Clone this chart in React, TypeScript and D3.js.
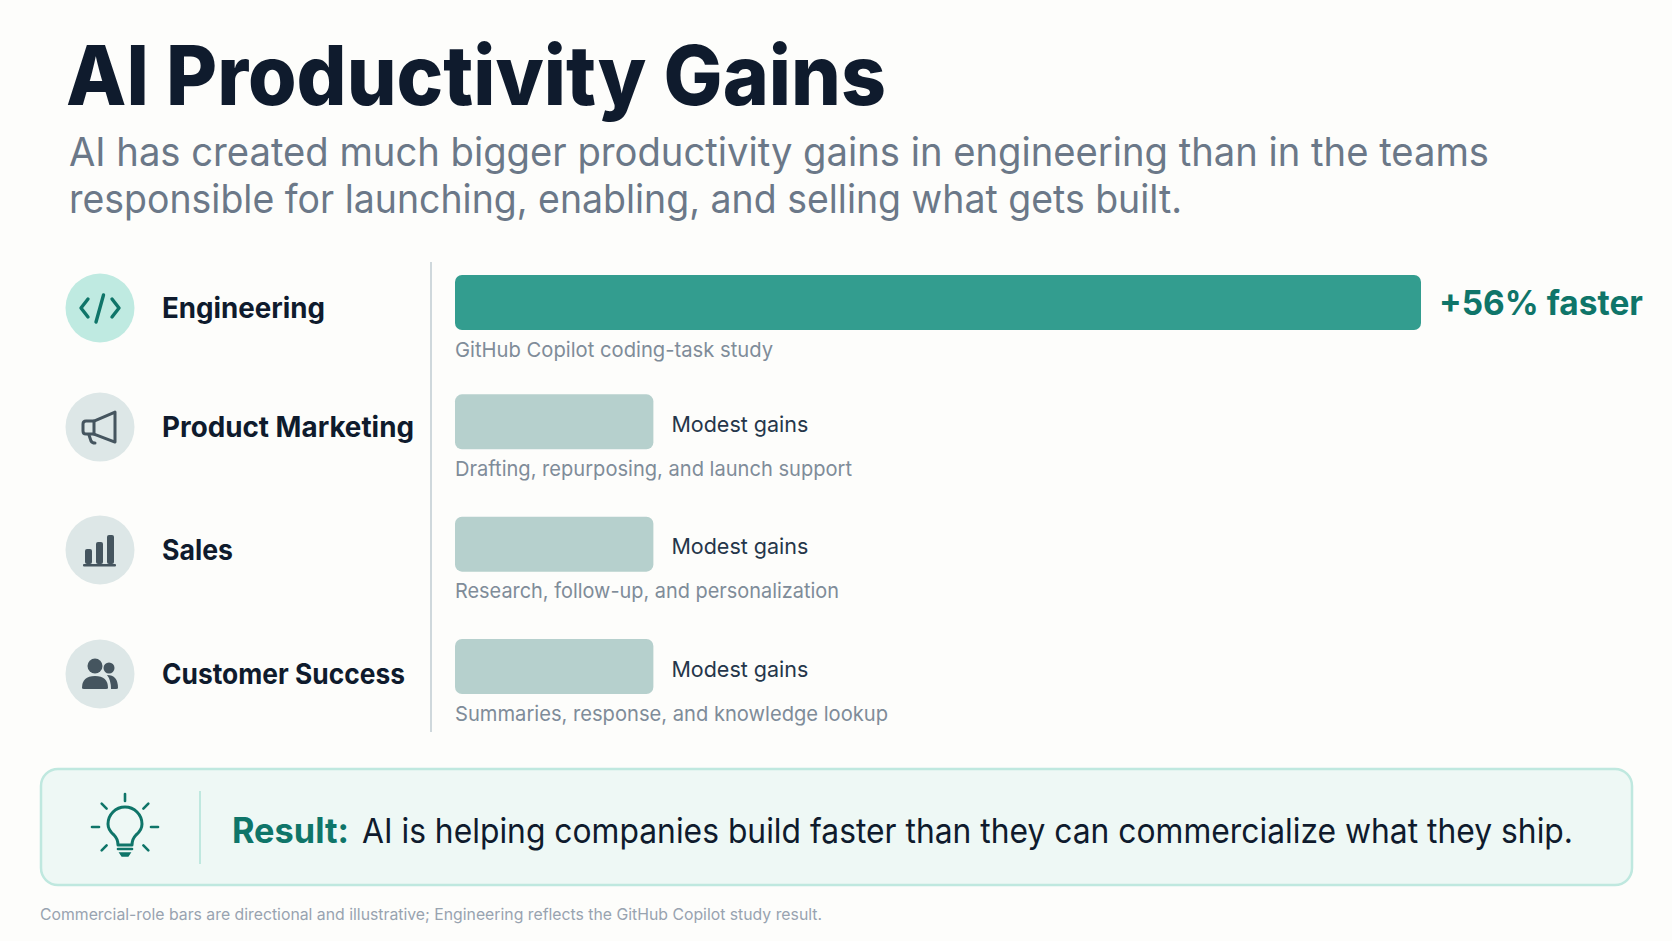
import React from "react";
import * as d3 from "d3";

const categories = ["Engineering", "Product Marketing", "Sales", "Customer Success"];
const values = [56, 11.5, 11.5, 11.5];
const valueLabels = ["+56% faster", "Modest gains", "Modest gains", "Modest gains"];
const notes = [
  "GitHub Copilot coding-task study",
  "Drafting, repurposing, and launch support",
  "Research, follow-up, and personalization",
  "Summaries, response, and knowledge lookup",
];
const subtitleLines = [
  "AI has created much bigger productivity gains in engineering than in the teams",
  "responsible for launching, enabling, and selling what gets built.",
];

const W = 1672;
const H = 941;
const FONT = "Inter, 'Open Sans', sans-serif";
const INK = "#0f1b2d";
const TEAL = "#0f7569";
const SLATE = "#45555f";

const x = d3.scaleLinear().domain([0, 56]).range([455, 1421]);
const y = d3.scalePoint<string>().domain(categories).range([302.5, 666.5]);
const BAR_H = 55;
// small per-row layout nudges of the reference's uneven spacing
const rowNudge = [0, -2, -1, 0];
const iconNudge = [5.5, 5.2, 5.8, 7.5];
const labelWidths = [163, 252, 71, 243];
const noteWidths = [318, 397, 384, 433];

function Icon({ i }: { i: number }) {
  if (i === 0)
    return (
      <g fill="none" stroke={TEAL} strokeWidth={3.4} strokeLinecap="round" strokeLinejoin="round">
        <path d="M-12,-9 L-19,0 L-12,9" />
        <path d="M12,-9 L19,0 L12,9" />
        <path d="M3.5,-13 L-4,14" />
      </g>
    );
  if (i === 1)
    return (
      <g fill="none" stroke={SLATE} strokeWidth={3} strokeLinejoin="round" strokeLinecap="round">
        <path d="M15,-15 L-6,-6 L-14,-6 Q-17,-6 -17,-3 L-17,4 Q-17,7 -14,7 L-6,7 L15,15 Z" />
        <path d="M-6,-6 L-6,7" />
        <path d="M-11,8 L-9,14 Q-8,16 -5,16" />
      </g>
    );
  if (i === 2)
    return (
      <g fill={SLATE}>
        <rect x={-15} y={-1} width={7} height={15} rx={2} />
        <rect x={-4} y={-8} width={7} height={22} rx={2} />
        <rect x={7} y={-15} width={7} height={29} rx={2} />
        <rect x={-17} y={14} width={33} height={2.5} rx={1} />
      </g>
    );
  return (
    <g fill={SLATE}>
      <circle cx={-5} cy={-8} r={7.5} />
      <circle cx={9} cy={-6} r={5.5} />
      <path d="M-18,14 Q-18,2 -5,2 Q8,2 8,14 Q8,15 6,15 L-16,15 Q-18,15 -18,14 Z" />
      <path d="M7,1 Q18,1 18,14 Q18,15 16,15 L11,15 Q11,6 7,1 Z" />
    </g>
  );
}

function Bulb() {
  const rays = [-90, -45, 0, 45, 135, 180, 225];
  return (
    <g transform="translate(125,828)" stroke={TEAL} fill="none" strokeLinecap="round">
      {rays.map((a) => {
        const r = (a * Math.PI) / 180;
        return (
          <line
            key={a}
            x1={Math.cos(r) * 26}
            y1={Math.sin(r) * 26 - 1}
            x2={Math.cos(r) * 33}
            y2={Math.sin(r) * 33 - 1}
            strokeWidth={2.6}
          />
        );
      })}
      <path
        d="M-7,17 Q-7,11 -11,7 Q-17,2 -17,-4 A17,17 0 0 1 17,-4 Q17,2 11,7 Q7,11 7,17 Z"
        strokeWidth={3}
        strokeLinejoin="round"
      />
      <line x1={-7} y1={21} x2={7} y2={21} strokeWidth={2.6} />
      <path d="M-5,25 L5,25 L3,28 L-3,28 Z" fill={TEAL} strokeWidth={1.5} />
    </g>
  );
}

export default function App() {
  return (
    <svg
      width={W}
      height={H}
      viewBox={`0 0 ${W} ${H}`}
      style={{ position: "fixed", left: 0, top: 0, display: "block" }}
      fontFamily={FONT}
    >
      <rect width={W} height={H} fill="#fdfdfb" />

      <text x={66} y={105} fontSize={83} fontWeight={800} fill={INK} textLength={820} lengthAdjust="spacingAndGlyphs">
        AI Productivity Gains
      </text>
      {subtitleLines.map((l, i) => (
        <text
          key={i}
          x={69}
          y={166 + i * 47}
          fontSize={39}
          fontWeight={400}
          fill="#6b7888"
          textLength={i === 0 ? 1420 : 1113}
          lengthAdjust="spacingAndGlyphs"
        >
          {l}
        </text>
      ))}

      <line x1={431} x2={431} y1={262} y2={732} stroke="#cfd8dc" strokeWidth={2} />

      {categories.map((c, i) => {
        const cy = y(c)! + rowNudge[i];
        const iy = cy + iconNudge[i];
        const primary = i === 0;
        return (
          <g key={c}>
            <circle cx={100} cy={iy} r={34.5} fill={primary ? "#bfeae1" : "#dde7e7"} />
            <g transform={`translate(100,${iy})`}>
              <Icon i={i} />
            </g>
            <text
              x={162}
              y={iy + 10}
              fontSize={28}
              fontWeight={700}
              fill={INK}
              textLength={labelWidths[i]}
              lengthAdjust="spacingAndGlyphs"
            >
              {c}
            </text>
            <rect
              x={x(0)}
              y={cy - BAR_H / 2}
              width={x(values[i]) - x(0)}
              height={BAR_H}
              rx={7}
              fill={primary ? "#339d8f" : "#b6d0cd"}
            />
            <text
              x={x(values[i]) + (primary ? 18 : 18)}
              y={cy + (primary ? 12 : 10)}
              fontSize={primary ? 34 : 22}
              fontWeight={primary ? 700 : 400}
              fill={primary ? TEAL : "#25364a"}
              textLength={primary ? 204 : 137}
              lengthAdjust="spacingAndGlyphs"
            >
              {valueLabels[i]}
            </text>
            <text
              x={x(0)}
              y={cy + 54}
              fontSize={20.5}
              fill="#7f8c99"
              textLength={noteWidths[i]}
              lengthAdjust="spacingAndGlyphs"
            >
              {notes[i]}
            </text>
          </g>
        );
      })}

      <rect x={41} y={769} width={1591} height={116} rx={17} fill="#eef8f5" stroke="#bfe8df" strokeWidth={2.5} />
      <line x1={200} x2={200} y1={791} y2={864} stroke="#bfe8df" strokeWidth={2} />
      <Bulb />
      <text x={232} y={843} fontSize={35} fontWeight={700} fill={TEAL} textLength={117} lengthAdjust="spacingAndGlyphs">
        Result:
      </text>
      <text x={362} y={843} fontSize={34} fill={INK} textLength={1211} lengthAdjust="spacingAndGlyphs">
        AI is helping companies build faster than they can commercialize what they ship.
      </text>
      <text x={40} y={920} fontSize={16} fill="#98a3b0" textLength={782} lengthAdjust="spacingAndGlyphs">
        Commercial-role bars are directional and illustrative; Engineering reflects the GitHub Copilot study result.
      </text>
    </svg>
  );
}
